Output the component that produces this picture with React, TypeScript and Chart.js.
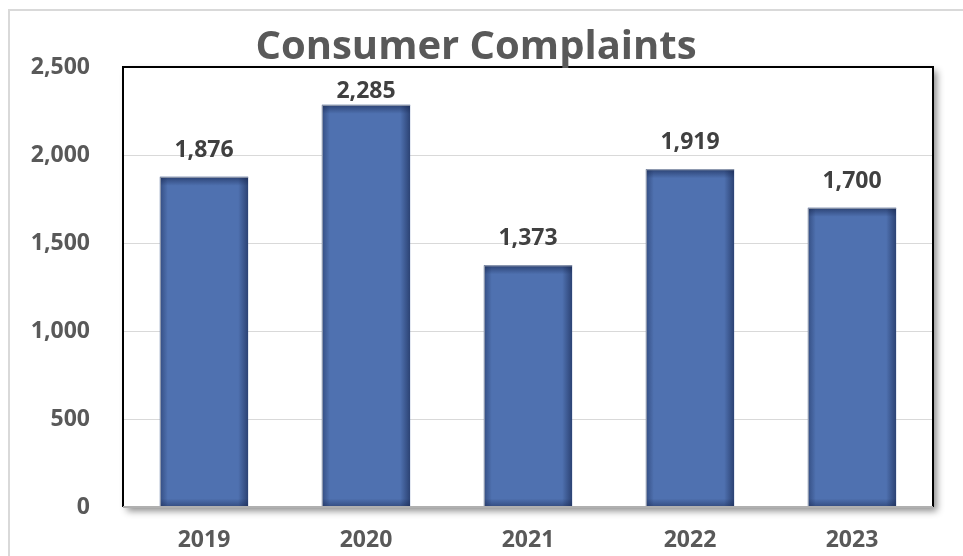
import React, { useEffect, useRef } from "react";
import { Chart, registerables } from "chart.js";

Chart.register(...registerables);

const categories = ["2019", "2020", "2021", "2022", "2023"];
const complaints = [1876, 2285, 1373, 1919, 1700];
const yTicks = [0, 500, 1000, 1500, 2000, 2500];
const titleText = "Consumer Complaints";

const FONT = "'Open Sans', 'Liberation Sans', sans-serif";
const fmt = (v: number) => v.toLocaleString("en-US");

const framePlugin = {
  id: "frame",
  beforeDraw(chart: any) {
    const { ctx, chartArea: a, width, height } = chart;
    ctx.save();
    ctx.fillStyle = "#ffffff";
    ctx.fillRect(0, 0, width, height);
    // outer chart border
    ctx.strokeStyle = "#d9d9d9";
    ctx.lineWidth = 2;
    ctx.strokeRect(9, 10, width + 20, height + 20);
    // plot area with drop shadow
    ctx.shadowColor = "rgba(0,0,0,0.45)";
    ctx.shadowBlur = 7;
    ctx.shadowOffsetX = 4;
    ctx.shadowOffsetY = 4;
    ctx.fillStyle = "#ffffff";
    ctx.fillRect(a.left, a.top, a.right - a.left, a.bottom - a.top);
    ctx.restore();
  },
  afterDatasetsDraw(chart: any) {
    const { ctx, chartArea: a } = chart;
    const meta = chart.getDatasetMeta(0);
    ctx.save();
    meta.data.forEach((bar: any) => {
      const w = bar.width;
      const l = bar.x - w / 2;
      const r = bar.x + w / 2;
      const t = bar.y;
      const b = bar.base;
      ctx.save();
      ctx.beginPath();
      ctx.rect(l, t, w, b - t);
      ctx.clip();
      const dark = "rgba(20,35,75,";
      let g = ctx.createLinearGradient(0, t, 0, t + 9);
      g.addColorStop(0, dark + "0.6)");
      g.addColorStop(1, dark + "0)");
      ctx.fillStyle = g;
      ctx.fillRect(l, t, w, 9);
      g = ctx.createLinearGradient(0, b, 0, b - 8);
      g.addColorStop(0, dark + "0.45)");
      g.addColorStop(1, dark + "0)");
      ctx.fillStyle = g;
      ctx.fillRect(l, b - 8, w, 8);
      g = ctx.createLinearGradient(l, 0, l + 8, 0);
      g.addColorStop(0, dark + "0.45)");
      g.addColorStop(1, dark + "0)");
      ctx.fillStyle = g;
      ctx.fillRect(l, t, 8, b - t);
      g = ctx.createLinearGradient(r, 0, r - 10, 0);
      g.addColorStop(0, dark + "0.6)");
      g.addColorStop(1, dark + "0)");
      ctx.fillStyle = g;
      ctx.fillRect(r - 10, t, 10, b - t);
      ctx.restore();
      ctx.strokeStyle = "rgba(170,175,185,0.9)";
      ctx.lineWidth = 1;
      ctx.beginPath();
      ctx.moveTo(l + 0.5, b);
      ctx.lineTo(l + 0.5, t + 0.5);
      ctx.lineTo(r, t + 0.5);
      ctx.stroke();
    });
    // data labels
    ctx.font = `bold 23px ${FONT}`;
    ctx.fillStyle = "#404040";
    ctx.textAlign = "center";
    ctx.textBaseline = "alphabetic";
    meta.data.forEach((bar: any, i: number) => {
      const y = Math.max(bar.y - 20, a.top + 31);
      ctx.fillText(fmt(complaints[i]), bar.x, y);
    });
    // plot border
    ctx.lineWidth = 2;
    ctx.strokeStyle = "#000000";
    ctx.beginPath();
    ctx.moveTo(a.left, a.bottom);
    ctx.lineTo(a.left, a.top);
    ctx.lineTo(a.right, a.top);
    ctx.lineTo(a.right, a.bottom);
    ctx.stroke();
    ctx.strokeStyle = "#b0b0b0";
    ctx.beginPath();
    ctx.moveTo(a.left, a.bottom);
    ctx.lineTo(a.right, a.bottom);
    ctx.stroke();
    ctx.restore();
  },
  afterDraw(chart: any) {
    const { ctx } = chart;
    ctx.save();
    ctx.font = `bold 40px ${FONT}`;
    ctx.fillStyle = "#595959";
    ctx.textAlign = "center";
    ctx.textBaseline = "alphabetic";
    ctx.fillText(titleText, 476, 59);
    ctx.restore();
  },
};

export default function App() {
  const ref = useRef<HTMLCanvasElement | null>(null);
  useEffect(() => {
    document.body.style.margin = "0";
    const canvas = ref.current!;
    const chart = new Chart(canvas, {
      type: "bar",
      data: {
        labels: categories,
        datasets: [
          {
            data: complaints,
            backgroundColor: "#4f71b0",
            borderWidth: 0,
            categoryPercentage: 1,
            barPercentage: 0.545,
          },
        ],
      },
      options: {
        responsive: false,
        animation: false,
        devicePixelRatio: 1,
        layout: { padding: { left: 0, top: 67, right: 30, bottom: 0 } },
        plugins: {
          legend: { display: false },
          title: { display: false },
          tooltip: { enabled: false },
        },
        scales: {
          y: {
            min: 0,
            max: 2500,
            afterBuildTicks: (s: any) => {
              s.ticks = yTicks.map((v) => ({ value: v }));
            },
            afterFit: (s: any) => {
              s.width = 123;
            },
            ticks: {
              callback: (v: any) => fmt(Number(v)),
              font: { family: FONT, weight: "bold", size: 23 },
              color: "#595959",
              padding: 33,
            },
            grid: { color: "#d9d9d9", lineWidth: 1, drawTicks: false },
            border: { display: false },
          },
          x: {
            afterFit: (s: any) => {
              s.height = 49;
            },
            ticks: {
              font: { family: FONT, weight: "bold", size: 23 },
              color: "#595959",
              padding: 20,
            },
            grid: { display: false, drawTicks: false },
            border: { display: false },
          },
        },
      },
      plugins: [framePlugin],
    });
    return () => chart.destroy();
  }, []);
  return (
    <canvas
      ref={ref}
      width={963}
      height={556}
      style={{ display: "block", width: 963, height: 556 }}
    />
  );
}
